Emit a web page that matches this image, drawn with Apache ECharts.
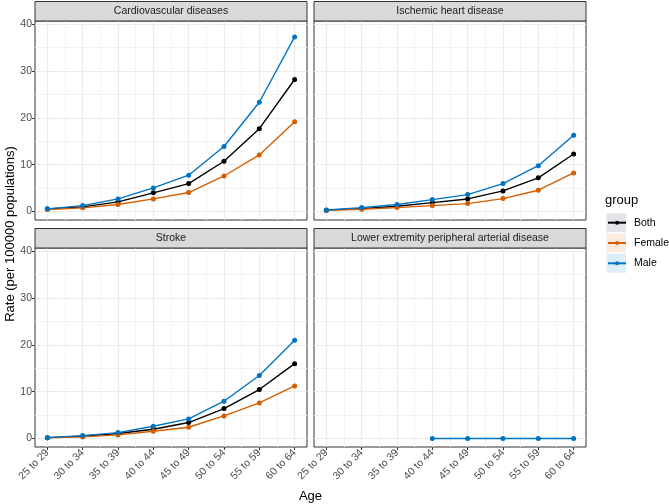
<!DOCTYPE html>
<html>
<head>
<meta charset="utf-8">
<script src="https://cdn.jsdelivr.net/npm/echarts@6/dist/echarts.min.js"></script>
<style>
html,body{margin:0;padding:0;background:#fff;}
#chart{width:669px;height:504px;}
</style>
</head>
<body>
<div id="chart"></div>
<script>
// ---- data ----
const ages = ['25 to 29','30 to 34','35 to 39','40 to 44','45 to 49','50 to 54','55 to 59','60 to 64'];
const panels = ['Cardiovascular diseases','Ischemic heart disease','Stroke','Lower extremity peripheral arterial disease'];
const groups = ['Both','Female','Male'];

const cvdBoth   = [0.55, 1.0, 2.07, 4.0, 5.98, 10.75, 17.7, 28.2];
const cvdFemale = [0.45, 0.8, 1.5, 2.7, 4.06, 7.6, 12.1, 19.2];
const cvdMale   = [0.58, 1.28, 2.7, 5.06, 7.77, 13.9, 23.35, 37.3];

const ihdBoth   = [0.3, 0.64, 1.15, 1.92, 2.7, 4.42, 7.2, 12.3];
const ihdFemale = [0.25, 0.5, 0.85, 1.28, 1.7, 2.77, 4.56, 8.26];
const ihdMale   = [0.35, 0.85, 1.5, 2.56, 3.63, 5.98, 9.8, 16.3];

const strokeBoth   = [0.2, 0.5, 1.07, 2.0, 3.42, 6.41, 10.47, 16.0];
const strokeFemale = [0.15, 0.36, 0.78, 1.57, 2.42, 4.84, 7.62, 11.25];
const strokeMale   = [0.2, 0.64, 1.28, 2.63, 4.2, 7.98, 13.46, 21.0];

const lepadBoth   = [null, null, null, null, null, null, null, null];
const lepadFemale = [null, null, null, null, null, null, null, null];
const lepadMale   = [null, null, null, 0.02, 0.02, 0.02, 0.02, 0.03];

const yTicks = [0, 10, 20, 30, 40];
const yMinorTicks = [5, 15, 25, 35];
const xTicks = [1, 2, 3, 4, 5, 6, 7, 8];
const xMinorTicks = [1.5, 2.5, 3.5, 4.5, 5.5, 6.5, 7.5];

const panelData = [
  [cvdBoth, cvdFemale, cvdMale],
  [ihdBoth, ihdFemale, ihdMale],
  [strokeBoth, strokeFemale, strokeMale],
  [lepadBoth, lepadFemale, lepadMale]
];

// ---- styles / layout ----
const colors = {Both:'#000000', Female:'#D55E00', Male:'#0073C2'};
const keyFill = {Both:'#e2e4e7', Female:'#fbebdf', Male:'#ddeef8'};
const FONT = 'Liberation Sans, Arial, sans-serif';
const W = 272, H = 199;
const lefts = [35, 314, 35, 314];
const tops = [21, 21, 248, 248];
const stripH = 19.5;
const X_MIN = 0.65, X_MAX = 8.35, Y_MIN = -1.8, Y_MAX = 40.7;

const grids = [], xAxes = [], yAxes = [], series = [], graphics = [];

for (let p = 0; p < 4; p++) {
  const bottom = p >= 2, leftCol = (p % 2 === 0);
  grids.push({left: lefts[p], top: tops[p], width: W, height: H, show: true,
    borderColor: '#333333', borderWidth: 1, backgroundColor: '#ffffff', containLabel: false});
  xAxes.push({type: 'value', gridIndex: p, min: X_MIN, max: X_MAX, position: 'bottom',
    axisLine: {show: false, onZero: false},
    axisTick: {show: bottom, customValues: xTicks, length: 3, lineStyle: {color: '#333333', width: 1}},
    axisLabel: {show: bottom, customValues: xTicks, rotate: 45, margin: 4,
      formatter: v => ages[Math.round(v) - 1] || '', fontSize: 10.5, color: '#4d4d4d', fontFamily: FONT},
    splitLine: {show: true, lineStyle: {color: '#ebebeb', width: 1.1}}, z: 1});
  yAxes.push({type: 'value', gridIndex: p, min: Y_MIN, max: Y_MAX, position: 'left',
    axisLine: {show: false, onZero: false},
    axisTick: {show: leftCol, customValues: yTicks, length: 3, lineStyle: {color: '#333333', width: 1}},
    axisLabel: {show: leftCol, customValues: yTicks, margin: 3, fontSize: 10.5, color: '#4d4d4d', fontFamily: FONT},
    splitLine: {show: true, lineStyle: {color: '#ebebeb', width: 1.1}}, z: 1});
}
for (let p = 0; p < 4; p++) {
  xAxes.push({type: 'value', gridIndex: p, min: X_MIN, max: X_MAX, position: 'bottom',
    axisLine: {show: false, onZero: false}, axisTick: {show: false, customValues: xMinorTicks},
    axisLabel: {show: false, customValues: xMinorTicks},
    splitLine: {show: true, lineStyle: {color: '#f3f3f3', width: 1}}, z: 0});
  yAxes.push({type: 'value', gridIndex: p, min: Y_MIN, max: Y_MAX, position: 'left',
    axisLine: {show: false, onZero: false}, axisTick: {show: false, customValues: yMinorTicks},
    axisLabel: {show: false, customValues: yMinorTicks},
    splitLine: {show: true, lineStyle: {color: '#f3f3f3', width: 1}}, z: 0});
}

for (let p = 0; p < 4; p++) {
  groups.forEach((g, gi) => {
    const vals = panelData[p][gi];
    const pts = [];
    vals.forEach((v, i) => { if (v !== null) pts.push([xTicks[i], v]); });
    series.push({type: 'line', name: g, xAxisIndex: p, yAxisIndex: p, data: pts,
      symbol: 'circle', symbolSize: 5, showSymbol: true,
      lineStyle: {width: 1.4, color: colors[g]}, itemStyle: {color: colors[g]},
      emphasis: {disabled: true}, z: 3 + gi, animation: false});
  });
  // strip header
  graphics.push({type: 'rect', z: 10,
    shape: {x: lefts[p], y: tops[p] - stripH, width: W, height: stripH},
    style: {fill: '#d9d9d9', stroke: '#333333', lineWidth: 1}});
  graphics.push({type: 'text', z: 11,
    style: {x: lefts[p] + W / 2, y: tops[p] - stripH / 2, text: panels[p], align: 'center', verticalAlign: 'middle',
      font: '10.5px ' + FONT, fill: '#1a1a1a'}});
}

// axis titles
graphics.push({type: 'text', z: 11, x: 10, y: 234, rotation: Math.PI / 2,
  style: {x: 0, y: 0, text: 'Rate (per 100000 populations)', align: 'center', verticalAlign: 'middle',
    font: '13px ' + FONT, fill: '#000'}});
graphics.push({type: 'text', z: 11,
  style: {x: 310.5, y: 496.5, text: 'Age', align: 'center', verticalAlign: 'middle',
    font: '13px ' + FONT, fill: '#000'}});
graphics.push({type: 'text', z: 11,
  style: {x: 605, y: 200.5, text: 'group', align: 'left', verticalAlign: 'middle',
    font: '13px ' + FONT, fill: '#000'}});
// legend key backgrounds
const keyCenters = [222.7, 243.0, 263.3];
groups.forEach((g, gi) => {
  graphics.push({type: 'rect', z: 0,
    shape: {x: 606.5, y: keyCenters[gi] - 9.5, width: 19.5, height: 19},
    style: {fill: keyFill[g]}});
});

const chart = echarts.init(document.getElementById('chart'), null, {renderer: 'canvas'});
chart.setOption({
  animation: false,
  backgroundColor: '#ffffff',
  textStyle: {fontFamily: FONT},
  grid: grids,
  xAxis: xAxes,
  yAxis: yAxes,
  series: series,
  legend: {data: groups, orient: 'vertical', left: 607, top: 215.7, itemWidth: 18, itemHeight: 5,
    itemGap: 6.3, padding: 0, selectedMode: false, z: 20,
    textStyle: {fontSize: 10.5, color: '#000', fontFamily: FONT, lineHeight: 14, padding: [0, 0, 0, 3]}},
  graphic: {elements: graphics}
});
</script>
</body>
</html>
